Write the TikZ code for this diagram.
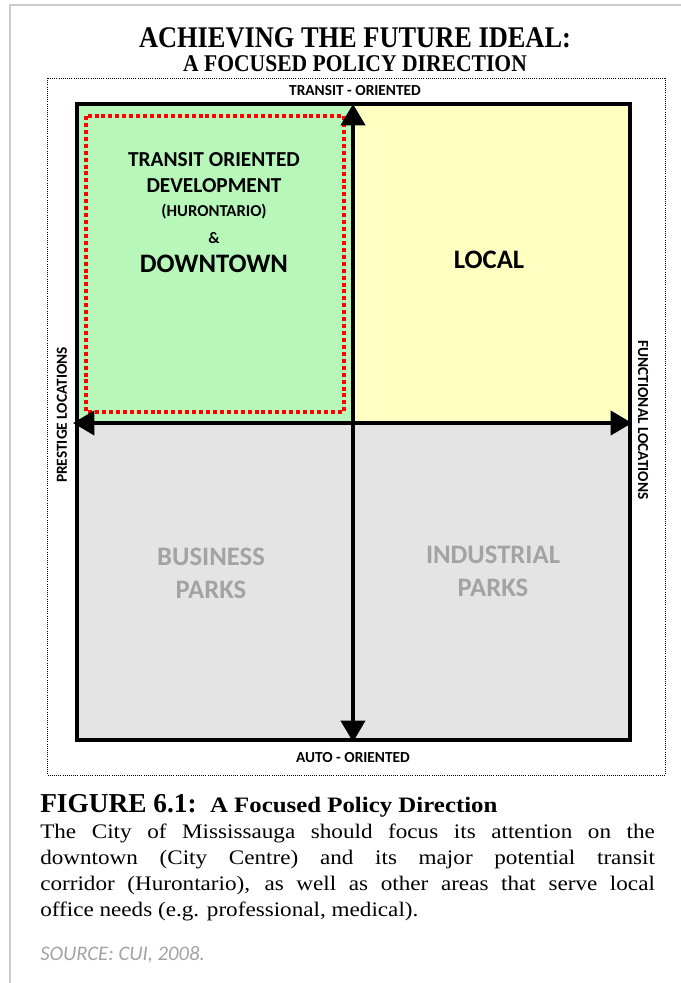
\documentclass[tikz,border=0pt]{standalone}
\usepackage{graphicx}
\usepackage{fontspec}
\setmainfont{Liberation Serif}
\newfontfamily\labelfont{Carlito}
\usetikzlibrary{arrows.meta}

\definecolor{todgreen}{RGB}{183,247,186}
\definecolor{localyellow}{RGB}{255,255,194}
\definecolor{parkfill}{RGB}{228,228,228}
\definecolor{parkgrey}{RGB}{163,163,163}
\definecolor{pageline}{RGB}{204,204,204}

\newlength{\bodywd}
\setlength{\bodywd}{411.6pt}
\newcommand{\fullline}[1]{\scalebox{1.12}[1]{\makebox[\bodywd][s]{#1}}}
\newcommand{\lastline}[1]{\scalebox{1.12}[1]{\makebox[\bodywd][l]{#1}}}

\begin{document}
\begin{tikzpicture} [
    x=0.75pt,
    y=-0.75pt,
    node distance=19.5pt,
  ]

  \tikzstyle{quadtext} = [
    font=\labelfont\bfseries\fontsize{16}{16}\selectfont,
    inner sep=0pt,
  ]
  \tikzstyle{bigtext} = [
    quadtext,
    font=\labelfont\bfseries\fontsize{20}{20}\selectfont,
  ]
  \tikzstyle{parktext} = [
    bigtext,
    text=parkgrey,
  ]
  \tikzstyle{axislabel} = [
    font=\labelfont\bfseries\fontsize{11.5}{11.5}\selectfont,
    inner sep=0pt,
  ]
  \tikzstyle{axis} = [
    line width=3pt,
    arrows={Triangle[length=16pt,width=18pt]-Triangle[length=16pt,width=18pt]},
  ]
  \tikzstyle{bodyline} = [
    font=\fontsize{15.5}{19.7}\selectfont,
    inner sep=0pt,
    text height=11.5pt,
    text depth=4pt,
    node distance=19.7pt,
  ]

  \useasboundingbox (0,0) rectangle (681,983);
  \draw[pageline,line width=1.5pt] (10,983) -- (10,5) -- (681,5);

  \node[font=\bfseries\fontsize{22.5}{26}\selectfont] (title) at (355,38) {\scalebox{0.88}[1]{ACHIEVING THE FUTURE IDEAL:}};
  \node[font=\bfseries\fontsize{18}{21}\selectfont] (subtitle) at (355,64) {\scalebox{0.9}[1]{A FOCUSED POLICY DIRECTION}};

  \draw[densely dotted,line width=0.6pt] (47,78) rectangle (665,775);

  \fill[todgreen]    (77,104)  rectangle (353,423);
  \fill[localyellow] (353,104) rectangle (630,423);
  \fill[parkfill]    (77,423)  rectangle (630,740);
  \draw[red,line width=2.6pt,dash pattern=on 3pt off 2.2pt] (86,116) rectangle (344,412);
  \draw[line width=3.4pt] (77,104) rectangle (630,740);

  \coordinate (north) at (353,104);
  \coordinate (south) at (353,742);
  \coordinate (west)  at (73,423);
  \coordinate (east)  at (632,423);
  \draw[axis] (north) -- (south);
  \draw[axis] (west)  -- (east);

  \node[axislabel]            (transit)    at (355,91)  {TRANSIT - ORIENTED};
  \node[axislabel]            (auto)       at (353,758) {AUTO - ORIENTED};
  \node[axislabel,rotate=90]  (prestige)   at (62,415)  {PRESTIGE LOCATIONS};
  \node[axislabel,rotate=-90] (functional) at (643,420) {FUNCTIONAL LOCATIONS};

  \node[quadtext]                (tod1) at (214,160) {TRANSIT ORIENTED};
  \node[quadtext,below of=tod1]  (tod2) {DEVELOPMENT};
  \node[quadtext,below of=tod2,font=\labelfont\bfseries\fontsize{12.5}{12.5}\selectfont] (tod3) {(HURONTARIO)};
  \node[quadtext,below of=tod3,font=\labelfont\bfseries\fontsize{12}{12}\selectfont]    (tod4) {\&};
  \node[bigtext,below of=tod4]   (tod5) {DOWNTOWN};

  \node[bigtext]                 (local) at (489,260) {LOCAL};

  \node[parktext]                          (bus1) at (211,557) {BUSINESS};
  \node[parktext,below of=bus1,node distance=24.75pt] (bus2) {PARKS};
  \node[parktext]                          (ind1) at (493,555) {INDUSTRIAL};
  \node[parktext,below of=ind1,node distance=24.75pt] (ind2) {PARKS};

  \node[anchor=base west,inner sep=0pt] (figure) at (40,812)
    {{\bfseries\fontsize{20.5}{24}\selectfont FIGURE 6.1:}\hspace{10pt}{\bfseries\fontsize{16.5}{19}\selectfont\scalebox{1.13}[1]{A Focused Policy Direction}}};

  \node[bodyline,anchor=west]    (body1) at (40,833) {\fullline{The City of Mississauga should focus its attention on the}};
  \node[bodyline,below of=body1] (body2) {\fullline{downtown (City Centre) and its major potential transit}};
  \node[bodyline,below of=body2] (body3) {\fullline{corridor (Hurontario), as well as other areas that serve local}};
  \node[bodyline,below of=body3] (body4) {\lastline{office needs (e.g. professional, medical).}};

  \node[anchor=west,inner sep=0pt,text=parkgrey,font=\labelfont\itshape\fontsize{15.5}{18}\selectfont] (source) at (40,955) {SOURCE: CUI, 2008.};

\end{tikzpicture}
\end{document}
